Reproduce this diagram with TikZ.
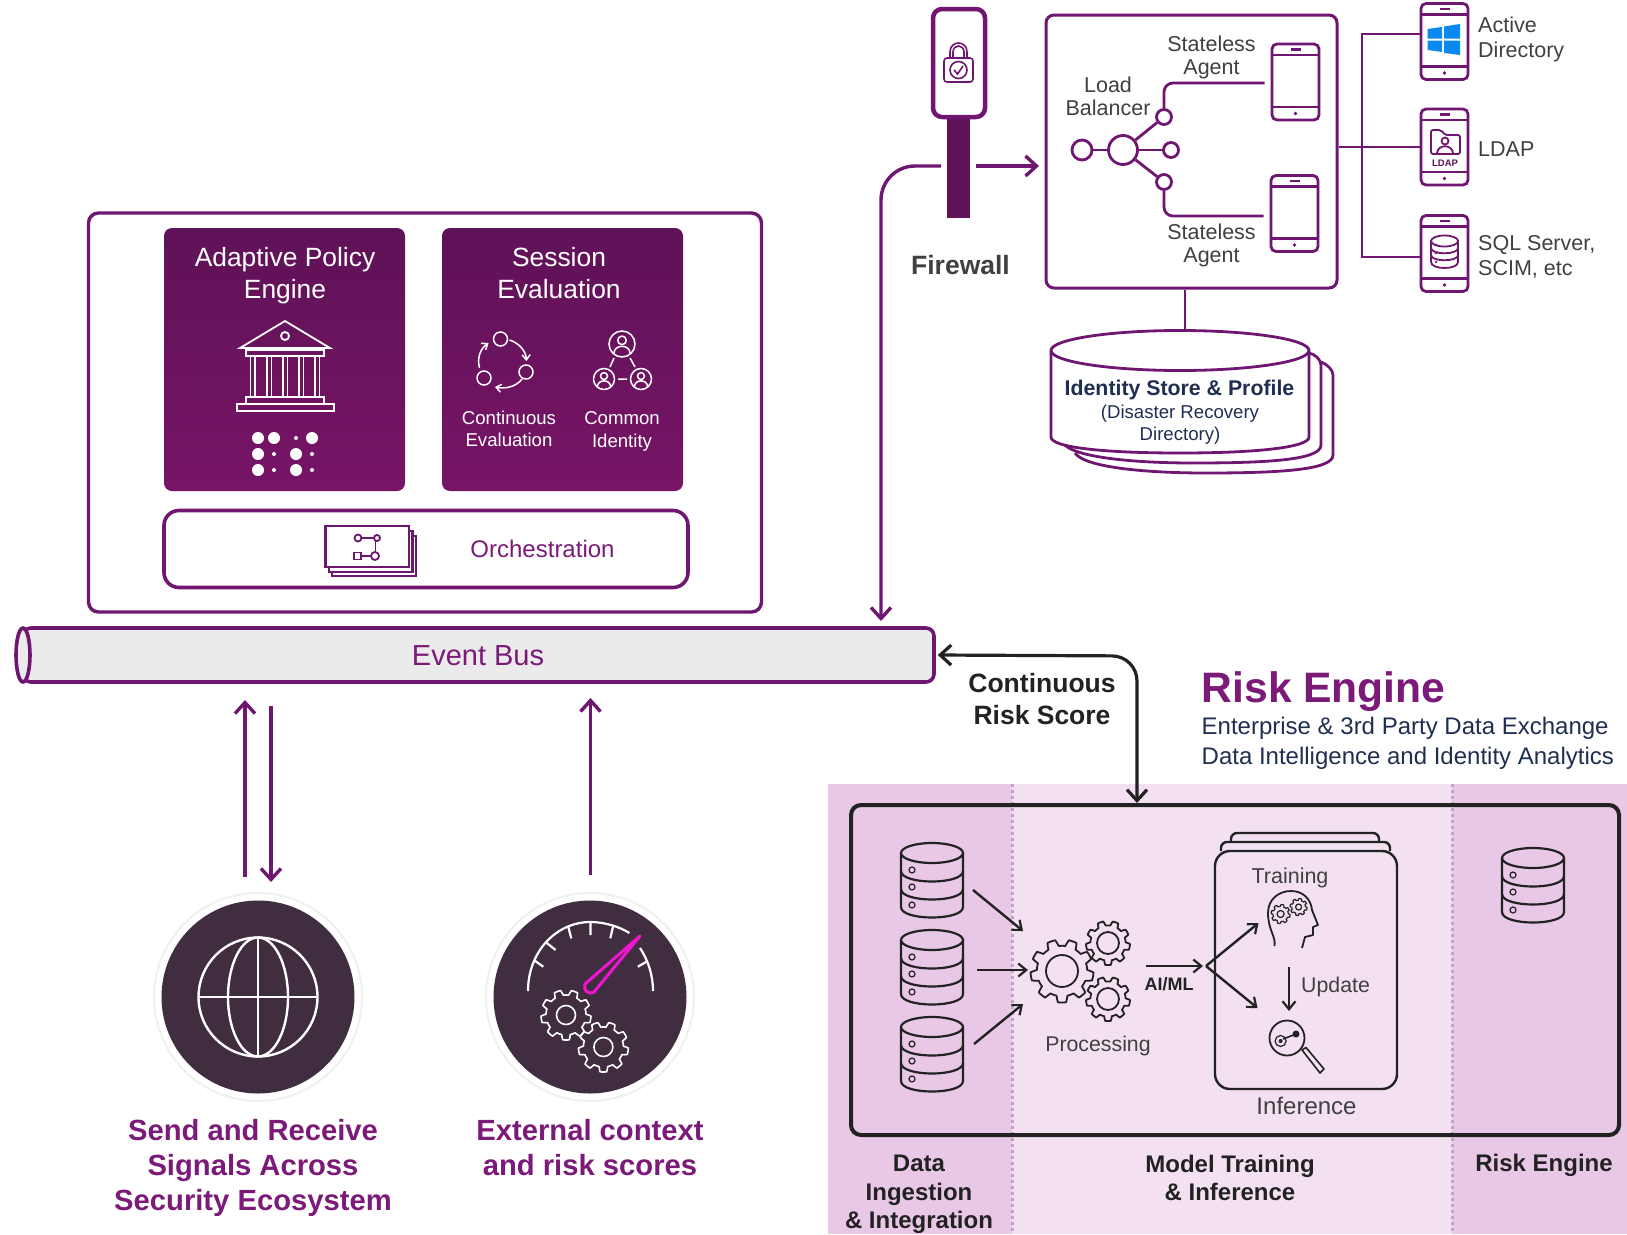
\documentclass[tikz,border=0pt]{standalone}
\usepackage{fontspec}
\setmainfont{Liberation Sans}
\usetikzlibrary{arrows.meta,calc}
\definecolor{pur}{HTML}{6F1670}
\definecolor{purdark}{HTML}{5F1257}
\definecolor{purlow}{HTML}{771466}
\definecolor{purtxt}{HTML}{7B1A78}
\definecolor{ink}{HTML}{222222}
\definecolor{txtg}{HTML}{404040}
\definecolor{navy}{HTML}{1F2F52}
\definecolor{bandD}{HTML}{E8C8E6}
\definecolor{bandL}{HTML}{F3E1F2}
\definecolor{bandG}{HTML}{BBA8BF}
\definecolor{dark}{HTML}{402E40}
\definecolor{mag}{HTML}{F015D0}
\definecolor{winb}{HTML}{0A8AF0}
\newcommand{\px}[2]{\fontsize{#1}{#2}\selectfont}
\tikzset{
  pline/.style={draw=pur,line width=3.4pt},
  kline/.style={draw=ink,line width=2.4pt},
  wline/.style={draw=white,line width=2pt},
  barbp/.style={-{Straight Barb[length=11pt,width=20pt,line width=3.4pt]}},
  barbs/.style={-{Straight Barb[length=8pt,width=13pt,line width=2.2pt]}},
  barbw/.style={-{Straight Barb[length=5pt,width=8pt,line width=1.5pt]}},
  lbl/.style={inner sep=0pt,align=center},
  card/.style={rounded corners=8pt,top color=purdark,bottom color=purlow,draw=none,inner sep=0pt,
    minimum width=241pt,minimum height=263pt},
  devbox/.style={draw=pur,line width=2.8pt,rounded corners=5pt,fill=white,inner sep=0pt,minimum width=47pt,minimum height=76pt},
  lbdot/.style={circle,draw=pur,line width=2.8pt,inner sep=0pt,fill=white},
  bandline/.style={draw=bandG,line width=3pt,dash pattern=on 3pt off 3pt},
}
\newcommand{\phonedev}[3]{%
  \node[devbox] (#1) at (#2,#3) {};
  \begin{scope}[shift={(#2,#3)}]
    \draw[pur,line width=2.6pt] (-23.5,-27) -- (23.5,-27) (-23.5,25) -- (23.5,25);
    \draw[pur,line width=2.6pt] (-5,-32.5) -- (5,-32.5);
    \fill[pur] (0,31.5) circle (1.8);
  \end{scope}}
\newcommand{\gearicon}[6]{% x y R r teeth style
  \begin{scope}[shift={(#1,#2)}]
    \draw[#6,line join=round] plot[domain=0:360,samples=145,variable=\t] ({\t}:{#3*0.9+#3*0.1*max(-1,min(1,3*sin(#5*\t)))}) -- cycle;
    \draw[#6] (0,0) circle (#4);
  \end{scope}}
\newcommand{\dbicon}[2]{%
  \begin{scope}[shift={(#1,#2)}]
    \draw[kline,line width=2.2pt] (-31,10) -- (-31,64) .. controls (-31,78) and (31,78) .. (31,64) -- (31,10);
    \draw[kline,line width=2.2pt] (0,10) ellipse (31 and 10);
    \draw[kline,line width=2.2pt] (-31,28) .. controls (-31,42) and (31,42) .. (31,28);
    \draw[kline,line width=2.2pt] (-31,46) .. controls (-31,60) and (31,60) .. (31,46);
    \foreach \yy in {27,44,62} \draw[ink,line width=1.2pt] (-20,\yy) circle (3);
  \end{scope}}
\newcommand{\personicon}[3]{%
  \begin{scope}[shift={(#1,#2)}]
    \draw[wline,line width=1.5pt] (0,0) circle (#3);
    \draw[wline,line width=1.5pt] (0,{-0.28*#3}) circle ({0.33*#3});
    \draw[wline,line width=1.5pt] ({-0.62*#3},{0.72*#3}) .. controls ({-0.62*#3},{0*#3}) and ({0.62*#3},{0*#3}) .. ({0.62*#3},{0.72*#3});
  \end{scope}}
\begin{document}
\begin{tikzpicture}[x=1pt,y=-1pt]
\useasboundingbox (0,0) rectangle (1627,1234);
\fill[white] (0,0) rectangle (1627,1234);

% ---------- Risk engine bands
\fill[bandD] (828,784) rectangle (1011.5,1234);
\fill[bandL] (1011.5,784) rectangle (1452,1234);
\fill[bandD] (1452,784) rectangle (1627,1234);
\draw[bandline] (1012,784) -- (1012,1234);
\draw[bandline] (1452,784) -- (1452,1234);

% ---------- Policy box
\node[draw=pur,line width=3.4pt,rounded corners=10pt,minimum width=673pt,minimum height=399pt,inner sep=0pt] (policy) at (425,412.5) {};
\node[card] (adaptive) at (284.5,359.5) {};
\node[card] (session) at (562.5,359.5) {};
\node[lbl,white,font=\px{26.4}{32}] (adaptivet) at (285,275.5) {Adaptive Policy\\Engine};
\node[lbl,white,font=\px{26.4}{32}] (sessiont) at (559,273) {Session\\Evaluation};
% temple
\begin{scope}[wline,line width=1.8pt]
  \draw (285,321) -- (240,348) -- (330,348) -- cycle;
  \draw (285,336) circle (4);
  \draw (246,350) rectangle (324,356);
  \foreach \xx in {250.5,267,283,299,315} \draw (\xx,356) -- (\xx,397) (\xx+4.5,356) -- (\xx+4.5,397);
  \draw (246,397) rectangle (324,404);
  \draw (237,404) rectangle (334,411);
\end{scope}
\foreach \xx/\yy/\rr in {258/438/6,274/438/6,296/438/2,312/438/6,258/454/6,274/454/2,296/454/6,312/454/2,258/470/6,274/470/2,296/470/6,312/470/2}
  \fill[white] (\xx,\yy) circle (\rr);
% cycle icon
\foreach \xx/\yy in {500.5/339,526/372,484/378} \draw[wline,line width=1.5pt] (\xx,\yy) circle (7);
\draw[wline,line width=1.5pt,barbw] (509.5,340) .. controls (519,343) and (526,351) .. (526.4,361);
\draw[wline,line width=1.5pt,barbw] (522,379) .. controls (516,387) and (505,389) .. (495,387);
\draw[wline,line width=1.5pt,barbw] (479.5,368) .. controls (477,358) and (480,349) .. (488.5,343);
% identity icon
\personicon{622}{344}{13}
\personicon{604}{379}{10.5}
\personicon{641}{379}{10.5}
\draw[wline,line width=1.5pt] (614,358) -- (610,367) (630,358) -- (635,367) (618,379) -- (627,379);
\node[lbl,white,font=\px{18.6}{22.5}] (conteval) at (509,429) {Continuous\\Evaluation};
\node[lbl,white,font=\px{18.6}{22.5}] (commonid) at (622,431.5) {Common\\Identity};
% orchestration
\node[draw=pur,line width=3.6pt,rounded corners=15pt,minimum width=524pt,minimum height=77pt,inner sep=0pt] (orch) at (426,549) {};
\draw[pur,line width=2.2pt,fill=white] (332,536) rectangle (416,576);
\draw[pur,line width=2.2pt,fill=white] (329,531) rectangle (412.5,572);
\draw[pur,line width=2.4pt,fill=white] (325.5,526) rectangle (409,567);
\begin{scope}[pur,line width=1.8pt]
  \draw (358,538) circle (3.5); \draw (377,538) circle (3); \draw (361.5,538) -- (374,538);
  \draw (354,552.5) rectangle (361,559.5); \draw (375,556) circle (4); \draw (361,556) -- (371,556);
  \draw (375.5,541) -- (375.5,552);
\end{scope}
\node[lbl,text=purtxt,font=\px{24}{28}] (orcht) at (542.5,549) {Orchestration};

% ---------- Event bus
\node[draw=pur,line width=3.6pt,fill=black!8,rounded corners=8pt,minimum width=911pt,minimum height=54pt,inner sep=0pt] (eventbus) at (478.5,655) {};
\draw[pur,line width=3.6pt,fill=black!8] (23,655) ellipse (7 and 27);
\node[lbl,text=purtxt,font=\px{29}{34}] (eventbust) at (478,656) {Event Bus};

% ---------- Firewall
\node[rectangle,fill=purdark,minimum width=23pt,minimum height=105pt,inner sep=0pt] (fwbar) at (958.5,165.5) {};
\node[draw=pur,line width=4.5pt,rounded corners=9pt,fill=white,minimum width=52pt,minimum height=108pt,inner sep=0pt] (fwdev) at (959,63) {};
\begin{scope}[pur,line width=1.6pt]
  \draw (950,58) -- (950,52) .. controls (950,40) and (967,40) .. (967,52) -- (967,58);
  \draw (953,58) -- (953,52) .. controls (953,44) and (964,44) .. (964,52) -- (964,58);
  \draw[rounded corners=3pt] (944,58) rectangle (973,82);
  \draw (958.5,70) circle (8.5);
  \draw (954,70) -- (957.5,74) -- (963,66);
\end{scope}
\node[lbl,text=txtg,font=\px{26.5}{30}] (fwt) at (960.5,265) {\textbf{Firewall}};

% ---------- Auth box
\node[draw=pur,line width=3pt,rounded corners=8pt,minimum width=291pt,minimum height=273pt,inner sep=0pt] (authbox) at (1191.5,151.5) {};
\coordinate (fwleft) at (941,166);
\coordinate (fwright) at (976,166);
\coordinate (authin) at (1039,166);
\coordinate (busin) at (881,621);
\draw[pline,barbp,rounded corners=34pt] (fwleft) -- (881,166) -- (busin);
\draw[pline,barbp] (fwright) -- (authin);

\phonedev{agenta}{1295.5}{82}
\phonedev{agentb}{1294.5}{213.5}
\node[lbdot,minimum width=20pt] (lbin) at (1082,150) {};
\node[lbdot,minimum width=29pt] (lbhub) at (1123,150) {};
\node[lbdot,minimum width=15pt] (lbt) at (1164,117) {};
\node[lbdot,minimum width=15pt] (lbr) at (1171,150) {};
\node[lbdot,minimum width=15pt] (lbb) at (1164,182) {};
\draw[pur,line width=2.8pt] (lbin) -- (lbhub);
\draw[pur,line width=2.8pt] (lbhub) -- (lbt);
\draw[pur,line width=2.8pt] (lbhub) -- (lbr);
\draw[pur,line width=2.8pt] (lbhub) -- (lbb);
\draw[pur,line width=2.8pt,rounded corners=9pt] (lbt.north) |- ([xshift=-6pt,yshift=-1pt]agenta.west);
\draw[pur,line width=2.8pt,rounded corners=9pt] (lbb.south) |- ([xshift=-6pt,yshift=-2.5pt]agentb.west);
\node[lbl,text=txtg,font=\px{21.5}{23}] (lbt1) at (1108,96.5) {Load\\Balancer};
\node[lbl,text=txtg,font=\px{21.5}{23}] (agt1) at (1211.5,57) {Stateless\\Agent};
\node[lbl,text=txtg,font=\px{21.5}{23}] (agt2) at (1211.5,245.5) {Stateless\\Agent};

% ---------- Directories
\phonedev{deva}{1444.5}{41.5}
\phonedev{devb}{1444.5}{147}
\phonedev{devc}{1444.5}{253.5}
\coordinate (trunktop) at (1362,34);
\coordinate (trunkbot) at (1362,257);
\draw[pur,line width=2.8pt] (authbox.east |- devb.west) -- (devb.west);
\draw[pur,line width=2.8pt] ([yshift=7.5pt]deva.west) -- (trunktop) -- (trunkbot) -- ([yshift=-3.5pt]devc.west);
\fill[winb] (1427.6,29) -- (1442,27) -- (1442,38.5) -- (1427.6,38.5) -- cycle;
\fill[winb] (1444,26.5) -- (1460,24) -- (1460,38.5) -- (1444,38.5) -- cycle;
\fill[winb] (1427.6,40.5) -- (1442,40.5) -- (1442,52) -- (1427.6,50) -- cycle;
\fill[winb] (1444,40.5) -- (1460,40.5) -- (1460,55) -- (1444,53) -- cycle;
\begin{scope}[pur,line width=1.8pt]
  \draw[rounded corners=2pt] (1431,154) -- (1431,130) -- (1441,130) -- (1445,135) -- (1460,135) -- (1460,154) -- cycle;
  \draw (1445,141) circle (3.5);
  \draw (1437,153) .. controls (1438,144) and (1452,144) .. (1453,153);
\end{scope}
\node[lbl,text=purdark,font=\px{9.5}{10}] (ldapmini) at (1445,163) {\textbf{LDAP}};
\begin{scope}[pur,line width=1.8pt]
  \draw (1431,241) -- (1431,262) .. controls (1431,270) and (1458,270) .. (1458,262) -- (1458,241);
  \draw (1444.5,241) ellipse (13.5 and 5.5);
  \draw (1431,248) .. controls (1431,255) and (1458,255) .. (1458,248);
  \draw (1431,255) .. controls (1431,262) and (1458,262) .. (1458,255);
  \foreach \yy in {244,252,261} \fill (1436,\yy+1) circle (1.3);
\end{scope}
\node[lbl,text=txtg,anchor=west,align=left,font=\px{21.5}{25}] (dira) at (1478,39.5) {Active\\Directory};
\node[lbl,text=txtg,anchor=west,font=\px{21.5}{25}] (dirb) at (1478,149) {LDAP};
\node[lbl,text=txtg,anchor=west,align=left,font=\px{21.5}{25}] (dirc) at (1478,256.5) {SQL Server,\\SCIM, etc};

% ---------- Identity store
\coordinate (storetop) at (1185,330);
\draw[pur,line width=2.8pt] (authbox.south -| storetop) -- (storetop);
\draw[pur,line width=2.8pt,fill=white] (1075,453) .. controls (1085,468) and (1150,473) .. (1205,473) .. controls (1280,473) and (1333,470) .. (1333,455) -- (1333,375) .. controls (1333,370) and (1327,364) .. (1321,362);
\draw[pur,line width=2.8pt,fill=white] (1063,443) .. controls (1073,458) and (1138,463) .. (1193,463) .. controls (1268,463) and (1321,460) .. (1321,445) -- (1321,365) .. controls (1321,360) and (1315,354) .. (1309,353);
\draw[pur,line width=2.8pt,fill=white] (1051,351) -- (1051,437) .. controls (1051,447) and (1100,453) .. (1180,453) .. controls (1260,453) and (1309,447) .. (1309,437) -- (1309,351);
\draw[pur,line width=2.8pt,fill=white] (1180,350.5) ellipse (129 and 20);
\node[lbl,text=navy,font=\px{21.3}{25}] (idt1) at (1179.5,390) {\textbf{Identity Store \& Profile}};
\node[lbl,text=navy,font=\px{18.6}{22}] (idt2) at (1180,425) {(Disaster Recovery\\Directory)};

% ---------- Signals
\coordinate (sigup1) at (245,877);
\coordinate (sigup2) at (245,700);
\coordinate (sigdn1) at (271,706);
\coordinate (sigdn2) at (271,882);
\coordinate (extup1) at (590.5,875);
\coordinate (extup2) at (590.5,698);
\draw[pline,barbp] (sigup1) -- (sigup2);
\draw[pline,barbp] (sigdn1) -- (sigdn2);
\draw[pline,barbp] (extup1) -- (extup2);

\node[circle,fill=white,draw=black!6,line width=2pt,minimum size=208pt,inner sep=0pt] (globeout) at (258,997) {};
\node[circle,fill=dark,minimum size=193pt,inner sep=0pt] (globein) at (258,997) {};
\begin{scope}[wline,line width=2.4pt]
  \draw (258,997) circle (59.5);
  \draw (258,997) ellipse (30 and 59.5);
  \draw (258,937.5) -- (258,1056.5);
  \draw (198.5,997) -- (317.5,997);
\end{scope}
\node[circle,fill=white,draw=black!6,line width=2pt,minimum size=208pt,inner sep=0pt] (gaugeout) at (590,997) {};
\node[circle,fill=dark,minimum size=193pt,inner sep=0pt] (gaugein) at (590,997) {};
\begin{scope}[wline,line width=2.2pt]
  \draw (528,991) .. controls (528,952) and (556,922) .. (590.4,922) .. controls (605,922) and (620,927) .. (629.4,933);
  \draw (640,948) .. controls (648,960) and (653,975) .. (653,991);
  \draw (590.4,922) -- (590.4,935) (568.2,926.7) -- (571.3,938.3) (545.2,941.7) -- (555.6,950) (533.8,960) -- (543.3,966.7) (613,926.7) -- (610.3,938.3) (646.6,961.7) -- (637.8,966.7);
\end{scope}
\draw[mag,line width=3pt,line join=round] (640,936) -- (594,992) .. controls (588,995) and (583,990) .. (585,984) -- cycle;
\gearicon{566}{1015}{25}{9.5}{9}{draw=white,line width=1.6pt}
\gearicon{603.4}{1047}{25}{9.5}{9}{draw=white,line width=1.6pt}
\node[lbl,text=purtxt,font=\px{29.2}{35}] (sigt) at (253,1167.5) {\textbf{Send and Receive}\\\textbf{Signals Across}\\\textbf{Security Ecosystem}};
\node[lbl,text=purtxt,font=\px{29.2}{35}] (extt) at (590,1148) {\textbf{External context}\\\textbf{and risk scores}};

% ---------- Risk engine box
\node[draw=ink,line width=4pt,rounded corners=10pt,minimum width=768pt,minimum height=330pt,inner sep=0pt] (riskbox) at (1235,970) {};
\coordinate (riskin) at (riskbox.north -| 1137,0);
\coordinate (busout) at ([xshift=2pt]eventbus.east);
\draw[draw=ink,line width=3.2pt,rounded corners=25pt,{Straight Barb[length=11pt,width=20pt,line width=3.2pt]}-{Straight Barb[length=11pt,width=20pt,line width=3.2pt]}] (busout) -- (1137,656) -- (riskin);
\node[lbl,text=ink,font=\px{26.5}{32}] (crs) at (1042,699) {\textbf{Continuous}\\\textbf{Risk Score}};
\node[lbl,text=purtxt,anchor=west,font=\px{42.6}{46}] (ret) at (1201.5,692) {\textbf{Risk Engine}};
\node[lbl,text=navy,anchor=west,align=left,font=\px{24}{29.5}] (res) at (1201.5,743.5) {Enterprise \& 3rd Party Data Exchange\\Data Intelligence and Identity Analytics};

\dbicon{932}{843}
\dbicon{932}{930}
\dbicon{932}{1017}
\dbicon{1533}{848}
\coordinate (dba) at (973,890); \coordinate (dbb) at (977,970); \coordinate (dbc) at (974,1044);
\coordinate (proca) at (1023,931); \coordinate (procb) at (1028,970); \coordinate (procc) at (1023,1004);
\draw[kline,barbs] (dba) -- (proca);
\draw[kline,barbs] (dbb) -- (procb);
\draw[kline,barbs] (dbc) -- (procc);
\gearicon{1062}{971}{31.5}{16}{9}{draw=ink,line width=1.8pt}
\gearicon{1108}{943}{22}{11}{9}{draw=ink,line width=1.8pt}
\gearicon{1108}{999}{22}{11}{9}{draw=ink,line width=1.8pt}
\node[lbl,text=txtg,font=\px{21.3}{24}] (proct) at (1098,1046) {Processing};
% training stack
\draw[kline,rounded corners=6pt] (1231,851) -- (1231,833) -- (1379,833) -- (1379,851);
\draw[kline,rounded corners=6pt,fill=bandL] (1221,851) -- (1221,842) -- (1390,842) -- (1390,851);
\node[draw=ink,line width=2.4pt,fill=bandL,rounded corners=15pt,minimum width=182pt,minimum height=238pt,inner sep=0pt] (trainbox) at (1306,970) {};
\coordinate (aimla) at (1146,966); \coordinate (aimlb) at (1203,966); \coordinate (fork) at (1206,966);
\coordinate (forkt) at (1258.5,923); \coordinate (forkb) at (1257.5,1008);
\draw[kline,barbs] (aimla) -- (aimlb);
\draw[kline,barbs] (fork) -- (forkt);
\draw[kline,barbs] (fork) -- (forkb);
\node[lbl,text=ink,font=\px{18}{20}] (aimlt) at (1169,984) {\textbf{AI/ML}};
\node[lbl,text=txtg,font=\px{21.5}{24}] (traint) at (1290,878) {Training};
\draw[ink,line width=1.8pt,line join=round] (1274.5,946) .. controls (1276,936) and (1268,930) .. (1268,913) .. controls (1268,899) and (1279,891) .. (1291,891) .. controls (1304,891) and (1311,900) .. (1312,910) -- (1318,925) -- (1313,927) -- (1313,935) -- (1305,937) -- (1302,948);
\gearicon{1280.6}{914}{9.5}{3.5}{8}{draw=ink,line width=1.2pt}
\gearicon{1298.6}{907}{8.5}{3}{8}{draw=ink,line width=1.2pt}
\coordinate (upa) at (1289,967); \coordinate (upb) at (1289,1011);
\draw[ink,line width=2.2pt,barbs] (upa) -- (upb);
\node[lbl,text=txtg,anchor=west,font=\px{21.3}{24}] (updt) at (1301,987) {Update};
\draw[ink,line width=1.8pt] (1287,1038) circle (17.5);
\draw[ink,line width=1.2pt] (1280.6,1041) circle (5.5);
\fill[ink] (1280.6,1041) circle (2);
\fill[ink] (1296,1034) circle (3.5);
\draw[ink,line width=1.6pt] (1283,1039) -- (1296,1034);
\draw[ink,line width=1.6pt,line join=round] (1302,1050) -- (1306,1047.5) -- (1324,1069) -- (1320,1073) -- cycle;
\node[lbl,text=txtg,font=\px{24}{26}] (inft) at (1306.5,1106) {Inference};
\node[lbl,text=ink,font=\px{24}{28.5}] (lab1) at (919,1194.5) {\textbf{Data}\\\textbf{Ingestion}\\\textbf{\& Integration}};
\node[lbl,text=ink,font=\px{24}{28.5}] (lab2) at (1230,1178) {\textbf{Model Training}\\\textbf{\& Inference}};
\node[lbl,text=ink,font=\px{24}{28.5}] (lab3) at (1544,1165) {\textbf{Risk Engine}};
\end{tikzpicture}
\end{document}
